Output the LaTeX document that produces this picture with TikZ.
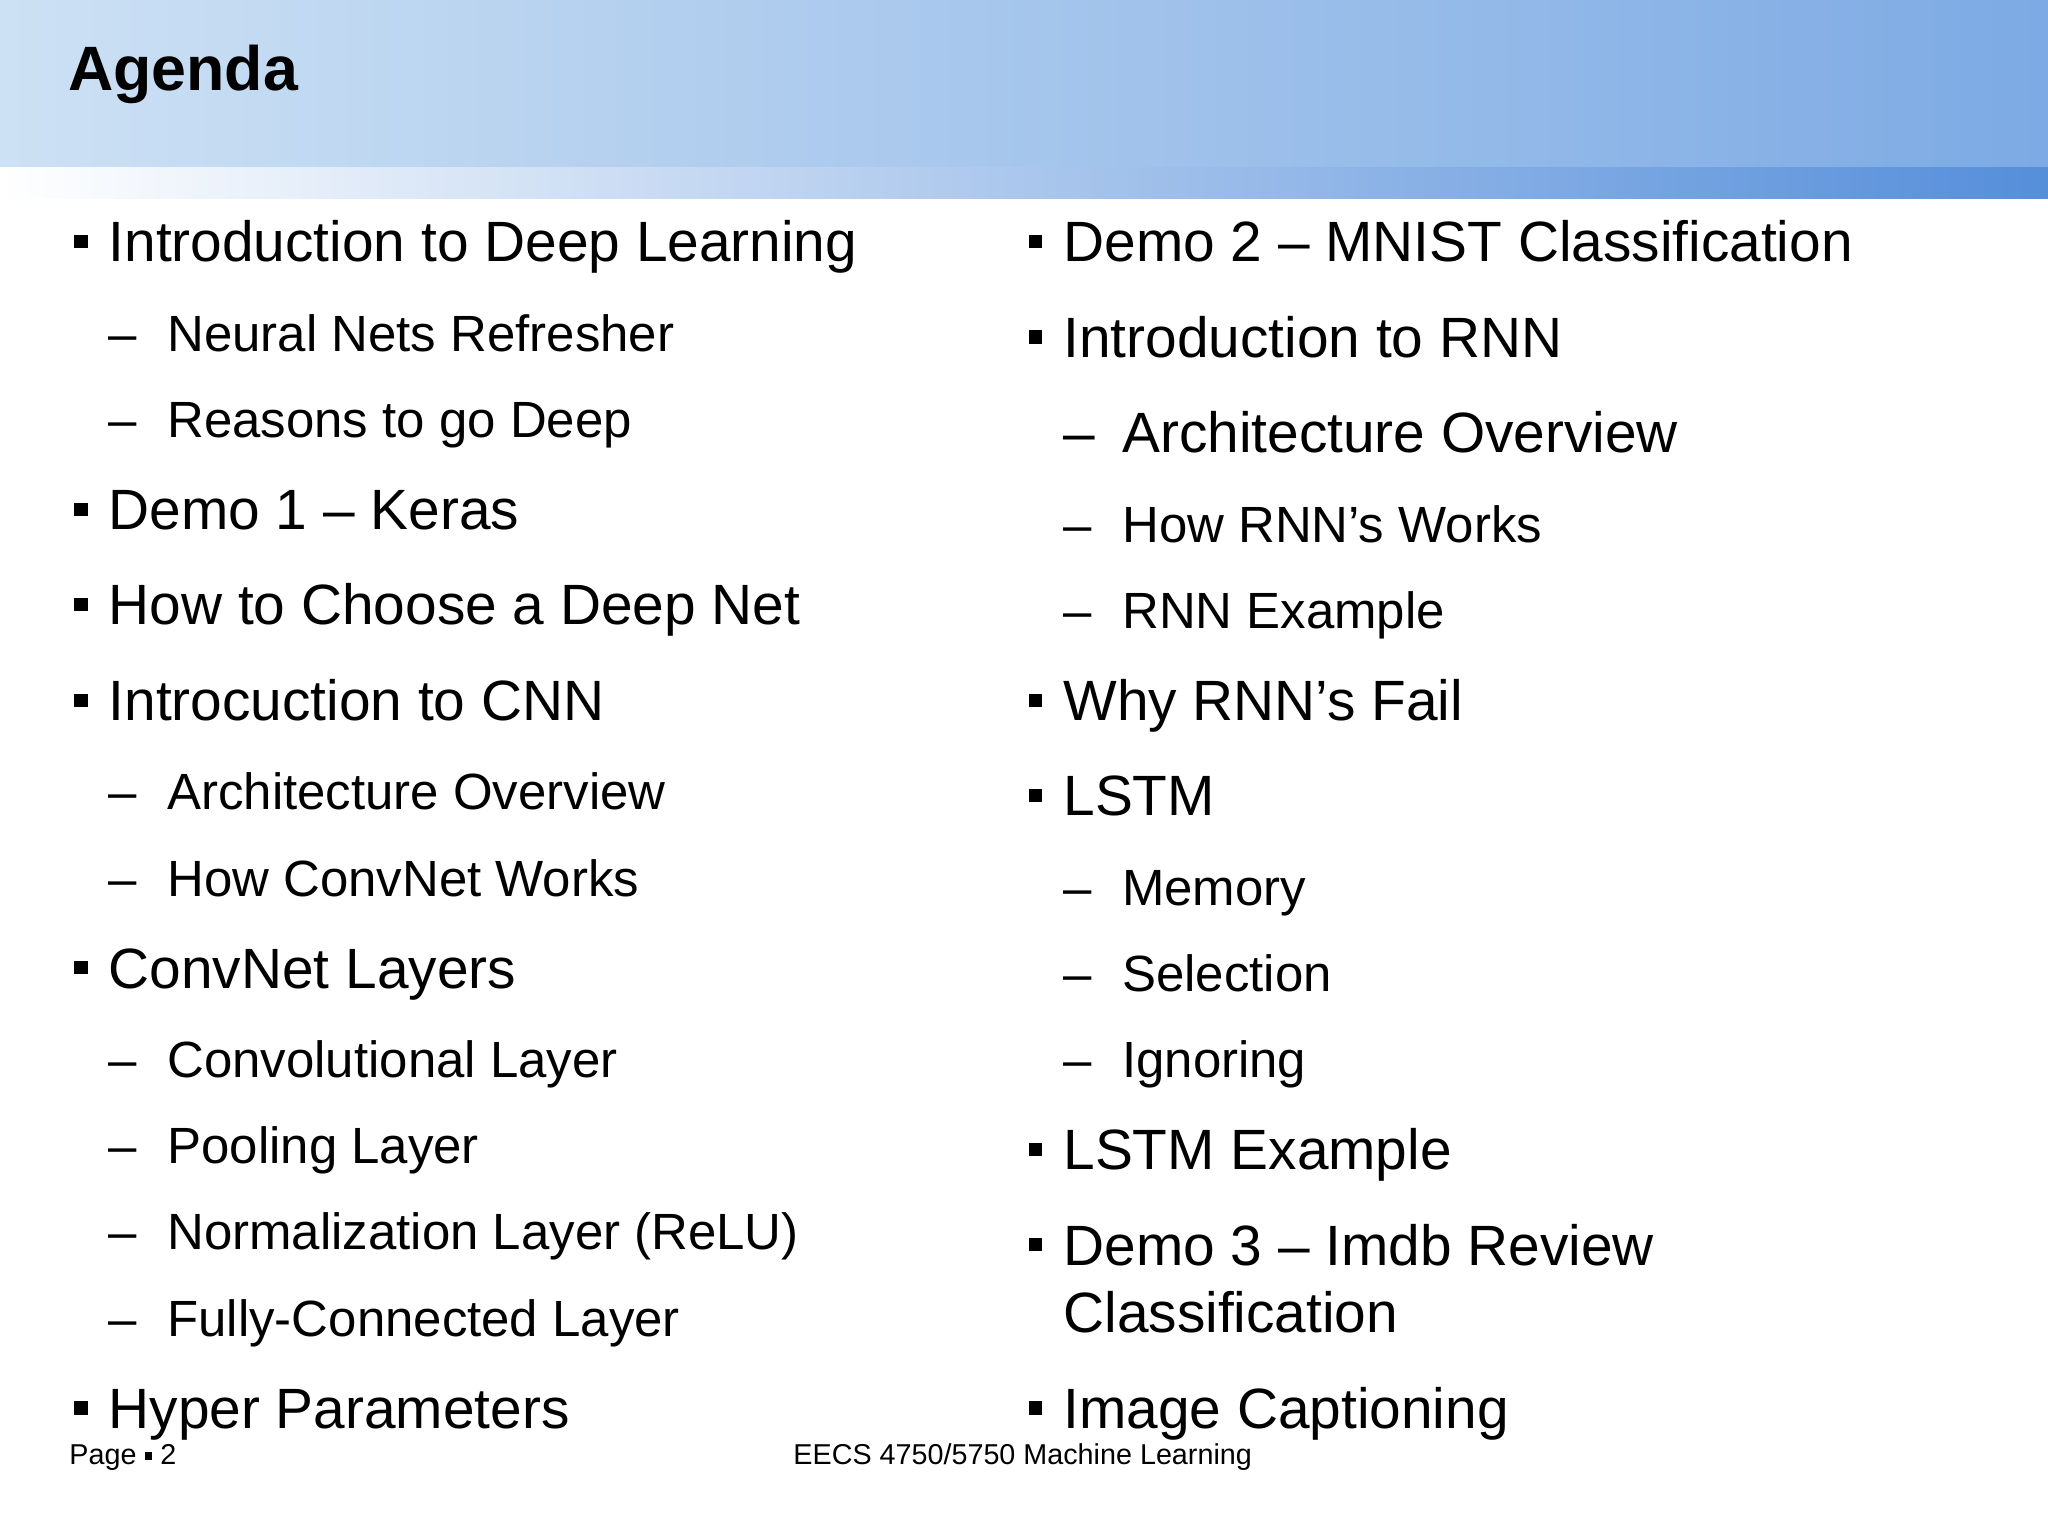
\documentclass[tikz,border=0pt]{standalone}
\usepackage{fontspec}
\setmainfont{Liberation Sans}
\definecolor{hl}{RGB}{205,225,244}
\definecolor{hr}{RGB}{125,170,228}
\definecolor{br}{RGB}{85,142,218}
\begin{document}
\begin{tikzpicture}[x=1pt,y=-1pt,
  main/.style={anchor=base west,font=\fontsize{43.5}{48}\selectfont,inner sep=0pt},
  sub/.style={anchor=base west,font=\fontsize{39}{44}\selectfont,inner sep=0pt},
  bul/.style={fill=black,minimum size=10pt,inner sep=0pt,anchor=center}]
\useasboundingbox (0,0) rectangle (1568,1176);
\fill[white] (0,0) rectangle (1568,1176);
\shade[left color=hl, right color=hr] (0,0) rectangle (1568,128);
\shade[left color=white, right color=br] (0,128) rectangle (1568,152);
\node[anchor=base west,font=\bfseries\fontsize{48}{52}\selectfont,inner sep=0pt] (title) at (52,69) {Agenda};
% left column
\foreach \y/\t [count=\i] in {185/Introduction to Deep Learning,390/Demo 1 -- Keras,463/How to Choose a Deep Net,536/Introcuction to CNN,741/ConvNet Layers,1078/Hyper Parameters}{
  \node[bul] (lb\i) at (62,\y) {};
  \node[main] (l\i) at (83,\y+15.5) {\t};}
\foreach \y/\t [count=\i] in {255/Neural Nets Refresher,321/Reasons to go Deep,606/Architecture Overview,672/How ConvNet Works,811/Convolutional Layer,877/Pooling Layer,943/Normalization Layer (ReLU),1009/Fully-Connected Layer}{
  \node[sub] (ld\i) at (83,\y+14) {--};
  \node[sub] (ls\i) at (128,\y+14) {\t};}
% right column
\foreach \y/\t [count=\i] in {185/Demo 2 -- MNIST Classification,258/Introduction to RNN,536/Why RNN’s Fail,609/LSTM,880/LSTM Example,1078/Image Captioning}{
  \node[bul] (rb\i) at (793,\y) {};
  \node[main] (r\i) at (814,\y+15.5) {\t};}
\node[bul] (rb7) at (793,953) {};
\node[main] (r7) at (814,968.5) {Demo 3 -- Imdb Review};
\node[main] (r7b) at (814,1020.5) {Classification};
\node[main] (rd0) at (814,346.5) {--};
\node[main] (rs0) at (859,346.5) {Architecture Overview};
\foreach \y/\t [count=\i] in {401/How RNN’s Works,467/RNN Example,679/Memory,745/Selection,811/Ignoring}{
  \node[sub] (rd\i) at (814,\y+14) {--};
  \node[sub] (rs\i) at (859,\y+14) {\t};}
% footer
\node[anchor=base west,font=\fontsize{22}{26}\selectfont,inner sep=0pt] (page) at (53,1121) {Page \raisebox{3pt}{\rule{6pt}{6pt}} 2};
\node[anchor=base,font=\fontsize{22}{26}\selectfont,inner sep=0pt] (foot) at (783,1121) {EECS 4750/5750 Machine Learning};
\end{tikzpicture}
\end{document}
